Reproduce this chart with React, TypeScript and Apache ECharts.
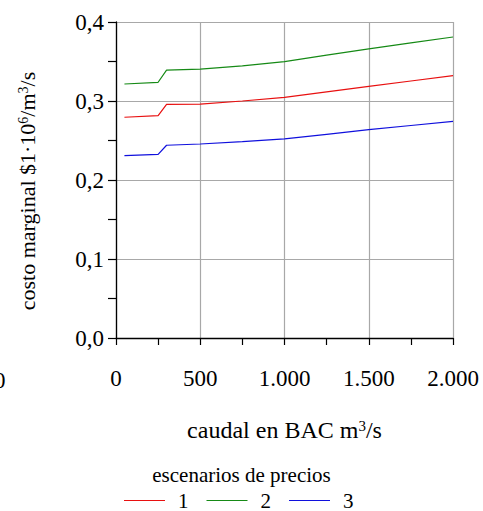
import React, { useEffect, useRef } from "react";
import * as echarts from "echarts";

const caudal = [50, 250, 300, 500, 750, 1000, 1250, 1500, 1750, 2000];
const escenario1 = [0.2794, 0.2814, 0.2958, 0.296, 0.3, 0.3047, 0.3116, 0.3186, 0.3253, 0.332];
const escenario2 = [0.3215, 0.3237, 0.339, 0.3403, 0.3445, 0.3498, 0.358, 0.366, 0.3735, 0.381];
const escenario3 = [0.2308, 0.2325, 0.244, 0.2456, 0.2486, 0.252, 0.2578, 0.2637, 0.269, 0.2743];
const seriesNames = ["1", "2", "3"];
const seriesColors = ["#e81010", "#168a16", "#1010dd"];

const FONT = "Liberation Serif";

export default function App() {
  const ref = useRef<HTMLDivElement>(null);
  useEffect(() => {
    if (!ref.current) return;
    const chart = echarts.init(ref.current, null, { renderer: "svg" });
    const allData = [escenario1, escenario2, escenario3];
    chart.setOption({
      animation: false,
      backgroundColor: "#fff",
      textStyle: { fontFamily: FONT, color: "#000" },
      grid: { left: 116, top: 22, right: 30, bottom: 173, containLabel: false, outerBoundsMode: "none" },
      title: {
        text: "escenarios de precios",
        left: "center",
        top: 459,
        textStyle: { fontFamily: FONT, fontSize: 21, fontWeight: "normal", color: "#000" },
      },
      legend: {
        data: seriesNames,
        top: 485,
        left: 119,
        icon: "rect",
        itemWidth: 41,
        itemHeight: 1.2,
        itemGap: 18,
        textStyle: { fontFamily: FONT, fontSize: 21, color: "#000", padding: [0, 0, 0, 8] },
      },
      xAxis: {
        type: "value",
        min: 0,
        max: 2000,
        interval: 500,
        name: "caudal en BAC m{sup|3}/s",
        nameLocation: "middle",
        nameGap: 80,
        nameTextStyle: {
          fontFamily: FONT,
          fontSize: 24,
          color: "#000",
          rich: { sup: { fontSize: 15, verticalAlign: "top", lineHeight: 14, fontFamily: FONT } },
        },
        axisLine: { show: true, onZero: false, lineStyle: { color: "#000", width: 1.3 } },
        axisTick: { show: true, inside: false, length: 7, lineStyle: { color: "#000", width: 1.2 } },
        minorTick: { show: true, splitNumber: 2, length: 7, lineStyle: { color: "#000", width: 1.2 } },
        axisLabel: {
          fontFamily: FONT,
          fontSize: 23,
          color: "#000",
          margin: 29,
          align: "center",
          formatter: (v: number) => String(v).replace(/\B(?=(\d{3})+(?!\d))/g, "."),
        },
        splitLine: { show: true, lineStyle: { color: "#a8a8a8", width: 1.2 } },
      },
      yAxis: {
        type: "value",
        min: 0,
        max: 0.4,
        interval: 0.1,
        name: "costo marginal $1·10{sup|6}/m{sup|3}/s",
        nameLocation: "middle",
        nameRotate: 90,
        nameGap: 78,
        nameTextStyle: {
          fontFamily: FONT,
          fontSize: 22,
          color: "#000",
          padding: [0, 22, 0, 0],
          rich: { sup: { fontSize: 14, verticalAlign: "top", lineHeight: 14, fontFamily: FONT } },
        },
        axisLine: { show: true, onZero: false, lineStyle: { color: "#000", width: 1.3 } },
        axisTick: { show: true, inside: false, length: 8, lineStyle: { color: "#000", width: 1.2 } },
        minorTick: { show: true, splitNumber: 2, length: 8, lineStyle: { color: "#000", width: 1.2 } },
        axisLabel: {
          fontFamily: FONT,
          fontSize: 23,
          color: "#000",
          margin: 12,
          formatter: (v: number) => v.toFixed(1).replace(".", ","),
        },
        splitLine: { show: true, lineStyle: { color: "#a8a8a8", width: 1.2 } },
      },
      graphic: [
        {
          type: "text",
          left: -6,
          top: 369,
          style: { text: "0", font: `23px ${FONT}`, fill: "#000" },
        },
      ],
      series: allData.map((d, i) => ({
        name: seriesNames[i],
        type: "line",
        symbol: "none",
        color: seriesColors[i],
        lineStyle: { color: seriesColors[i], width: 1.2 },
        data: caudal.map((x, j) => [x, d[j]]),
      })),
    });
    return () => chart.dispose();
  }, []);
  return <div ref={ref} style={{ width: 483, height: 511, position: "absolute", left: 0, top: 0 }} />;
}
